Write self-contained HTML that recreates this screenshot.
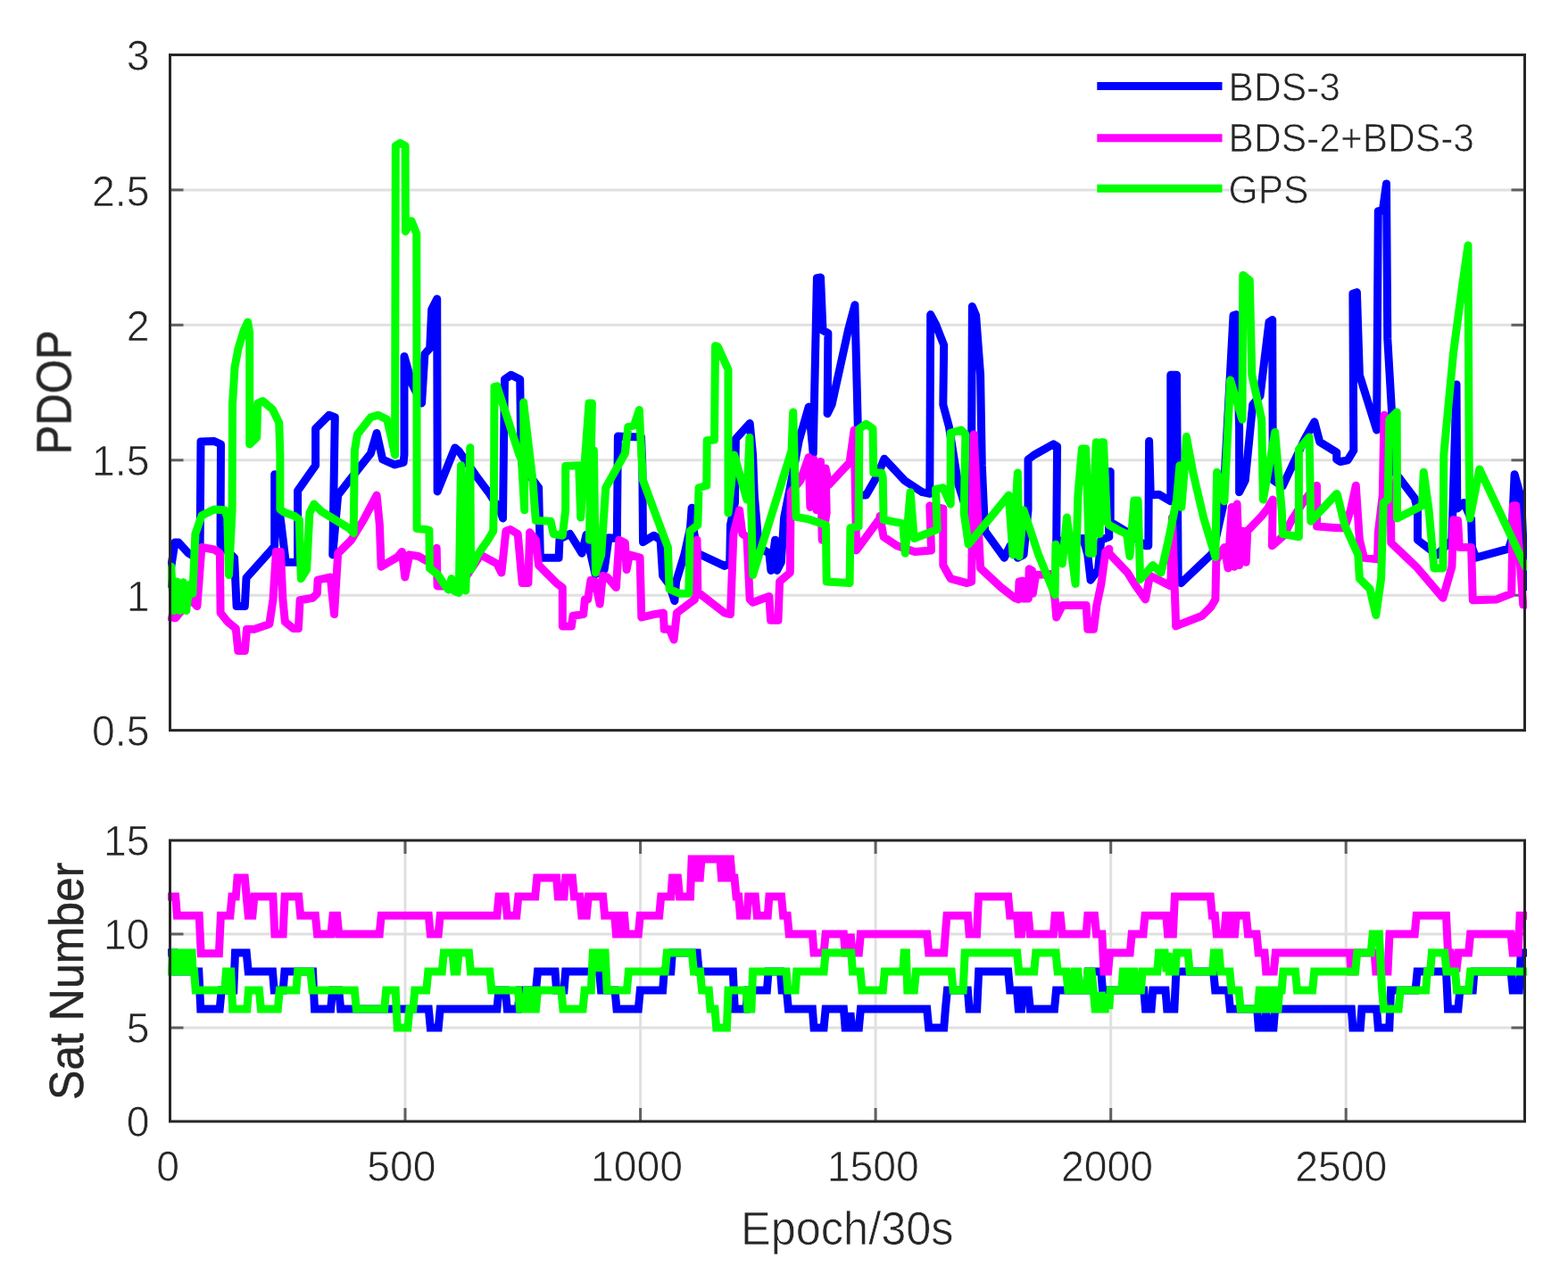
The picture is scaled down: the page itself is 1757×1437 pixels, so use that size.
<!DOCTYPE html>
<html lang="en"><head><meta charset="utf-8"><title>PDOP and satellite number</title>
<style>html,body{margin:0;padding:0;background:#fff;}body{width:1757px;height:1437px;overflow:hidden;}svg{display:block;}text{font-family:"Liberation Sans","DejaVu Sans",sans-serif;fill:#262626;stroke:#fff;stroke-width:0.7px;}.tk{font-size:48px;}.lb{font-size:51.5px;}.rot{stroke:#262626;stroke-width:0.5px;}.lg{font-size:43.5px;}</style></head><body>
<svg width="1757" height="1437" viewBox="0 0 1757 1437" role="img" aria-label="PDOP and satellite number over epochs for BDS-3, BDS-2+BDS-3 and GPS">
<rect width="1757" height="1437" fill="#fff"/>
<defs><filter id="soft" x="0" y="0" width="100%" height="100%" filterUnits="userSpaceOnUse" color-interpolation-filters="sRGB"><feGaussianBlur stdDeviation="0.6"/></filter><clipPath id="c1"><rect x="188.0" y="61.5" width="1523.0" height="757.1"/></clipPath><clipPath id="c2"><rect x="188.0" y="942.0" width="1523.0" height="315.0"/></clipPath></defs>
<g filter="url(#soft)">
<g><line x1="190.5" y1="667.2" x2="1708.5" y2="667.2" stroke="#e0e0e0" stroke-width="3"/><line x1="190.5" y1="515.8" x2="1708.5" y2="515.8" stroke="#e0e0e0" stroke-width="3"/><line x1="190.5" y1="364.3" x2="1708.5" y2="364.3" stroke="#e0e0e0" stroke-width="3"/><line x1="190.5" y1="212.9" x2="1708.5" y2="212.9" stroke="#e0e0e0" stroke-width="3"/><line x1="190.5" y1="1152.0" x2="1708.5" y2="1152.0" stroke="#e0e0e0" stroke-width="3"/><line x1="190.5" y1="1047.0" x2="1708.5" y2="1047.0" stroke="#e0e0e0" stroke-width="3"/><line x1="454.0" y1="942.0" x2="454.0" y2="1257.0" stroke="#e0e0e0" stroke-width="3"/><line x1="717.6" y1="942.0" x2="717.6" y2="1257.0" stroke="#e0e0e0" stroke-width="3"/><line x1="981.1" y1="942.0" x2="981.1" y2="1257.0" stroke="#e0e0e0" stroke-width="3"/><line x1="1244.7" y1="942.0" x2="1244.7" y2="1257.0" stroke="#e0e0e0" stroke-width="3"/><line x1="1508.2" y1="942.0" x2="1508.2" y2="1257.0" stroke="#e0e0e0" stroke-width="3"/></g>
<g stroke="#606060" stroke-width="3"><line x1="190.5" y1="667.2" x2="205.5" y2="667.2"/><line x1="1693.5" y1="667.2" x2="1708.5" y2="667.2"/><line x1="190.5" y1="515.8" x2="205.5" y2="515.8"/><line x1="1693.5" y1="515.8" x2="1708.5" y2="515.8"/><line x1="190.5" y1="364.3" x2="205.5" y2="364.3"/><line x1="1693.5" y1="364.3" x2="1708.5" y2="364.3"/><line x1="190.5" y1="212.9" x2="205.5" y2="212.9"/><line x1="1693.5" y1="212.9" x2="1708.5" y2="212.9"/><line x1="190.5" y1="1152.0" x2="205.5" y2="1152.0"/><line x1="1693.5" y1="1152.0" x2="1708.5" y2="1152.0"/><line x1="190.5" y1="1047.0" x2="205.5" y2="1047.0"/><line x1="1693.5" y1="1047.0" x2="1708.5" y2="1047.0"/><line x1="454.0" y1="1257.0" x2="454.0" y2="1242.0"/><line x1="454.0" y1="942.0" x2="454.0" y2="957.0"/><line x1="717.6" y1="1257.0" x2="717.6" y2="1242.0"/><line x1="717.6" y1="942.0" x2="717.6" y2="957.0"/><line x1="981.1" y1="1257.0" x2="981.1" y2="1242.0"/><line x1="981.1" y1="942.0" x2="981.1" y2="957.0"/><line x1="1244.7" y1="1257.0" x2="1244.7" y2="1242.0"/><line x1="1244.7" y1="942.0" x2="1244.7" y2="957.0"/><line x1="1508.2" y1="1257.0" x2="1508.2" y2="1242.0"/><line x1="1508.2" y1="942.0" x2="1508.2" y2="957.0"/></g>
<g clip-path="url(#c1)">
<polyline points="186.0,658.0 191.0,640.0 196.0,608.0 200.0,608.0 211.0,620.0 224.0,628.0 225.0,495.0 240.0,494.5 247.5,498.0 247.0,610.0 262.6,625.2 265.1,679.5 274.3,679.5 276.0,647.7 304.4,616.0 307.7,611.8 307.7,531.7 315.2,588.5 320.2,630.2 333.6,630.2 333.6,550.1 353.6,521.7 353.6,480.4 368.6,465.3 375.3,467.8 372.8,621.9 378.7,555.1 390.3,540.1 415.4,508.3 422.1,485.4 428.7,515.0 442.1,520.9 452.1,518.4 453.0,509.9 453.0,399.4 461.7,430.3 472.6,452.0 475.9,396.9 481.7,390.2 483.7,346.8 489.7,335.1 490.1,509.9 490.1,550.9 509.8,502.0 514.3,505.8 533.5,533.4 548.5,553.4 560.2,571.8 563.5,581.0 565.5,425.3 572.7,420.3 582.7,425.3 583.9,509.9 585.2,521.7 603.6,546.7 605.3,621.9 606.9,625.2 626.1,625.2 627.0,604.3 638.7,598.5 652.0,620.2 657.0,599.3 667.0,643.6 677.1,638.6 682.1,602.7 691.3,603.5 692.4,489.0 718.5,490.0 719.8,521.7 720.5,607.7 732.8,600.2 740.1,605.2 742.6,645.2 750.1,655.3 755.9,673.6 757.6,651.9 766.8,621.9 773.5,591.8 775.1,569.3 776.8,591.8 781.8,620.2 811.9,634.4 817.7,631.9 818.5,588.5 823.5,563.4 824.4,492.0 840.2,474.5 843.6,509.9 845.3,555.1 850.3,613.5 861.9,620.2 863.9,639.4 868.6,605.2 870.6,639.4 875.3,630.2 878.6,580.1 885.3,546.7 895.3,493.7 906.2,456.1 911.2,508.3 915.4,311.7 919.5,310.9 922.0,370.2 927.9,373.5 927.1,463.7 932.1,453.6 950.4,370.2 957.9,341.8 961.3,478.7 962.1,555.1 970.5,555.1 982.1,535.1 987.8,521.7 990.9,514.2 1013.4,538.4 1033.5,551.7 1041.8,553.4 1042.7,352.6 1048.5,363.5 1057.7,386.9 1056.8,453.6 1063.5,478.7 1073.5,541.7 1088.2,588.5 1089.4,343.5 1093.6,353.5 1098.6,420.3 1100.3,521.7 1103.6,595.2 1125.3,625.2 1132.0,611.8 1140.3,625.2 1147.0,621.9 1152.0,571.8 1152.0,515.0 1158.7,510.0 1180.4,497.9 1184.6,500.4 1183.7,608.5 1192.1,605.2 1213.8,603.5 1218.8,621.9 1222.1,650.2 1230.5,638.6 1233.8,605.2 1242.8,601.8 1240.9,530.0 1244.2,528.4 1244.2,585.1 1265.1,597.7 1283.5,611.8 1286.8,611.8 1287.6,494.5 1289.3,555.1 1298.5,554.2 1311.8,561.8 1311.8,420.3 1318.5,420.3 1320.2,651.9 1323.5,653.6 1358.6,620.2 1370.3,568.4 1382.0,353.5 1385.3,352.6 1388.6,478.7 1388.6,551.7 1395.3,538.4 1403.7,453.6 1412.0,443.6 1422.0,361.0 1425.7,358.5 1426.2,509.9 1427.0,538.4 1437.1,545.1 1452.1,513.3 1462.1,492.0 1472.9,472.8 1478.8,495.4 1497.8,507.1 1497.7,515.0 1501.7,517.5 1510.1,515.9 1516.8,505.0 1515.9,329.3 1520.4,327.6 1523.4,420.3 1542.6,482.0 1544.3,236.8 1549.3,236.0 1553.5,205.9 1554.8,379.9 1563.5,530.0 1585.2,558.4 1588.5,571.8 1588.5,605.2 1610.3,621.9 1626.9,605.2 1632.0,431.1 1632.8,570.1 1640.3,563.4 1648.6,581.8 1649.5,613.5 1653.7,625.2 1690.4,615.2 1693.7,605.2 1697.1,531.7 1704.6,558.4 1709.1,657.8 1713.8,657.8" fill="none" stroke="#0000ff" stroke-width="9" stroke-linejoin="round" stroke-linecap="butt"/>
<polyline points="188.3,691.1 196.7,692.8 213.4,671.9 220.9,679.5 225.9,613.5 240.1,616.0 246.4,620.2 247.1,687.0 255.1,697.0 264.3,704.5 266.8,729.5 274.3,729.5 276.5,705.3 285.2,705.3 301.9,699.5 306.0,671.9 309.4,618.5 314.4,618.5 316.9,671.9 319.4,697.0 328.6,704.5 334.4,704.5 336.1,672.8 350.3,670.3 355.3,665.3 356.1,650.2 370.3,646.9 374.5,688.6 378.7,620.2 393.7,605.2 407.0,583.5 422.1,555.1 425.4,588.5 427.1,635.2 445.4,624.4 450.4,618.5 453.8,646.9 458.8,621.9 468.8,623.5 477.8,628.5 485.1,621.9 489.2,614.3 490.1,656.9 515.1,656.9 538.5,621.9 556.9,631.9 561.9,641.9 566.9,595.2 571.9,593.5 580.2,598.5 585.2,653.6 591.9,653.6 593.6,596.8 600.3,605.2 603.6,633.5 623.6,653.6 630.3,658.6 630.3,702.0 640.3,702.0 642.0,690.3 653.7,688.6 655.4,671.9 658.7,671.9 662.0,650.2 667.0,651.9 672.1,677.0 675.4,645.2 680.4,646.9 690.4,658.6 693.8,605.2 700.4,608.5 702.1,638.6 705.4,621.9 717.1,625.2 718.8,692.0 732.8,688.6 743.4,687.0 744.2,705.3 750.1,705.3 755.1,717.0 758.4,687.0 778.5,671.9 781.0,605.2 781.8,663.6 811.9,687.0 818.5,688.6 821.9,598.5 828.6,571.8 831.9,598.5 836.9,601.8 840.2,671.9 843.6,675.3 861.9,668.6 863.6,695.3 872.0,695.3 873.6,651.9 885.3,641.9 886.2,551.7 897.0,538.4 906.2,512.5 907.9,568.4 912.0,515.0 915.0,571.8 919.5,517.5 921.2,605.2 926.2,575.1 925.1,525.0 928.7,543.4 952.1,518.4 957.1,482.0 959.6,616.9 987.8,578.5 985.9,578.5 990.1,601.8 1005.1,611.8 1025.1,618.5 1043.5,616.9 1041.8,566.8 1056.8,570.1 1056.8,633.5 1065.2,648.6 1083.6,653.6 1088.6,651.9 1091.1,487.0 1098.6,636.9 1122.0,658.6 1137.0,670.3 1141.2,671.9 1142.0,651.9 1145.7,651.1 1147.3,671.1 1152.3,671.1 1153.2,637.7 1156.5,639.4 1157.3,665.3 1160.7,644.4 1177.0,643.6 1182.1,671.9 1183.7,692.0 1190.4,678.6 1217.1,678.6 1218.8,705.3 1225.5,705.3 1228.8,678.6 1233.8,655.3 1238.8,618.5 1242.8,615.2 1242.7,620.2 1263.4,641.9 1271.8,655.3 1283.5,671.9 1288.5,645.2 1295.2,648.6 1308.5,655.3 1311.8,656.9 1313.5,580.1 1317.7,702.0 1325.2,698.7 1346.9,690.3 1356.9,680.3 1361.9,671.9 1362.8,628.5 1371.9,613.5 1376.1,636.9 1380.3,568.4 1382.8,635.2 1386.1,565.1 1388.6,633.5 1392.8,595.2 1396.2,630.2 1397.8,595.2 1413.7,578.5 1420.4,570.1 1426.2,560.1 1425.4,611.8 1438.7,600.2 1447.1,583.5 1462.1,560.1 1475.5,544.2 1475.5,590.1 1497.8,591.8 1497.7,591.8 1506.7,591.8 1513.4,571.8 1519.3,544.2 1523.4,605.2 1528.4,625.2 1543.5,626.9 1544.3,596.8 1549.3,555.1 1551.0,465.3 1558.5,568.4 1558.8,608.5 1586.9,635.2 1616.9,670.3 1626.9,635.2 1628.6,582.6 1633.6,583.5 1635.3,613.5 1648.6,613.5 1650.3,672.8 1677.0,671.9 1693.7,665.3 1695.4,566.8 1698.7,566.8 1706.7,677.8 1713.8,677.8" fill="none" stroke="#ff00ff" stroke-width="9" stroke-linejoin="round" stroke-linecap="butt"/>
<polyline points="188.3,634.4 191.7,635.2 194.7,684.5 198.4,651.9 201.7,684.5 205.4,652.7 208.7,684.5 212.5,655.3 215.9,665.3 218.9,598.5 225.9,578.1 240.1,570.9 251.8,571.8 254.8,580.1 256.5,644.4 260.1,571.8 260.5,453.6 263.0,411.9 267.1,390.2 273.0,371.0 277.7,361.0 279.7,373.5 279.7,497.9 287.7,490.4 288.8,452.0 294.3,449.5 305.2,458.6 312.7,473.7 313.9,509.9 313.9,570.9 318.6,574.3 330.2,578.5 335.3,582.6 337.3,648.6 343.6,638.6 346.9,575.1 351.9,565.1 360.3,573.4 392.0,592.6 396.2,597.7 397.4,505.0 400.4,487.0 415.4,467.8 423.7,465.3 433.7,470.3 438.8,492.0 442.6,510.0 443.3,163.4 448.4,160.4 454.1,163.4 454.4,259.4 461.0,247.7 466.8,261.9 467.1,592.6 477.8,593.5 480.9,594.3 481.4,636.9 490.1,643.6 498.4,656.1 502.6,661.1 505.9,648.6 509.3,662.8 514.3,664.4 516.5,521.7 521.8,661.9 526.8,501.7 527.6,638.6 535.2,621.9 546.8,605.2 552.7,595.2 553.5,555.1 554.0,433.6 556.9,432.8 581.9,509.9 584.4,515.0 587.7,571.8 586.6,451.1 596.9,538.4 600.3,583.5 617.0,584.3 620.3,598.5 630.3,600.2 633.7,571.8 633.7,522.5 648.7,521.7 650.7,580.1 660.0,452.0 663.4,452.0 660.4,605.2 665.4,505.0 667.4,641.9 673.7,621.9 678.7,546.7 700.4,508.3 703.8,478.7 710.5,477.0 716.3,459.5 718.8,509.9 720.5,538.4 732.8,571.8 748.4,613.5 750.1,660.3 761.8,665.3 771.8,665.3 773.1,595.2 781.8,588.5 783.1,546.7 791.8,544.2 792.2,493.7 800.5,492.9 801.5,387.7 804.3,388.5 816.0,414.4 816.0,575.1 822.7,510.0 836.9,560.1 839.9,490.4 843.6,644.4 887.0,505.0 888.7,462.0 892.0,579.3 905.4,581.8 925.4,588.5 926.2,651.9 952.1,653.6 952.9,591.8 962.1,590.1 962.9,480.4 970.5,475.3 978.0,480.4 978.8,530.0 987.8,530.0 989.2,535.1 990.1,582.6 1011.8,586.8 1014.3,620.2 1020.1,551.7 1024.3,603.5 1050.2,593.5 1048.5,548.4 1056.8,546.7 1065.2,565.1 1065.2,485.4 1076.9,482.0 1081.9,487.0 1080.2,575.1 1085.2,610.2 1130.3,555.1 1135.0,621.9 1140.3,530.0 1142.0,623.5 1147.0,571.8 1163.7,621.9 1182.1,666.9 1182.9,610.2 1190.4,631.9 1195.4,580.1 1205.1,654.4 1207.9,555.1 1212.4,502.9 1216.6,502.9 1218.4,555.1 1220.5,620.2 1224.6,620.2 1226.3,538.4 1228.3,495.7 1232.1,598.5 1234.1,495.7 1236.5,495.7 1240.5,585.1 1242.7,588.5 1255.1,595.2 1262.6,598.5 1265.9,623.5 1270.9,560.9 1275.1,560.9 1277.6,649.4 1291.8,633.5 1301.0,641.9 1309.3,605.2 1318.5,560.1 1321.9,521.7 1323.9,568.4 1328.2,513.3 1329.4,489.5 1336.9,530.0 1348.6,580.1 1361.9,624.4 1363.6,529.2 1371.9,561.8 1378.6,426.1 1392.0,470.3 1392.8,308.4 1400.3,314.2 1402.8,420.3 1413.7,470.3 1415.4,560.1 1428.7,484.5 1436.2,571.8 1437.4,598.5 1455.4,601.8 1455.4,503.7 1467.1,490.0 1468.8,584.3 1497.8,553.4 1498.4,554.2 1506.7,588.5 1521.8,621.9 1523.4,648.6 1535.1,660.3 1541.8,689.5 1547.6,648.6 1550.2,563.4 1555.2,560.1 1556.8,470.3 1565.2,462.0 1565.5,581.0 1593.6,566.8 1595.2,529.2 1601.1,571.8 1606.9,636.9 1616.9,636.9 1617.8,509.9 1628.6,395.2 1638.6,320.1 1645.0,275.0 1646.1,509.9 1647.0,581.0 1657.8,525.9 1709.1,634.9 1713.8,634.9" fill="none" stroke="#00ff00" stroke-width="9" stroke-linejoin="round" stroke-linecap="butt"/>
</g>
<g clip-path="url(#c2)">
<polyline points="185.0,1068.0 195.0,1068.0 196.7,1089.0 222.8,1089.0 224.8,1131.0 246.2,1131.0 248.2,1110.0 261.8,1110.0 263.5,1068.0 276.2,1068.0 278.2,1089.0 305.5,1089.0 307.2,1110.0 317.2,1110.0 318.9,1089.0 350.5,1089.0 352.5,1131.0 370.6,1131.0 372.6,1110.0 379.7,1110.0 381.7,1131.0 477.8,1131.0 478.1,1131.0 480.3,1131.0 482.3,1152.0 491.2,1152.0 493.2,1131.0 556.9,1131.0 558.9,1110.0 566.3,1110.0 568.3,1131.0 580.5,1131.0 582.5,1110.0 600.5,1110.0 602.5,1089.0 622.0,1089.0 623.6,1110.0 632.0,1110.0 633.7,1089.0 671.5,1089.0 673.5,1110.0 689.0,1110.0 691.0,1131.0 715.3,1131.0 717.3,1110.0 732.8,1110.0 733.1,1110.0 742.6,1110.0 744.2,1089.0 751.8,1089.0 753.4,1068.0 781.2,1068.0 783.2,1089.0 821.3,1089.0 823.3,1131.0 836.1,1131.0 837.7,1110.0 859.4,1110.0 861.1,1089.0 874.5,1089.0 876.1,1110.0 881.4,1110.0 883.4,1131.0 910.4,1131.0 912.0,1152.0 923.1,1152.0 925.1,1131.0 945.4,1131.0 947.1,1152.0 951.3,1152.0 952.9,1135.3 954.6,1152.0 962.4,1152.0 964.4,1131.0 987.8,1131.0 988.1,1131.0 1038.7,1131.0 1040.7,1152.0 1057.7,1152.0 1059.4,1131.0 1061.4,1110.0 1084.4,1110.0 1086.1,1131.0 1094.7,1131.0 1096.7,1089.0 1129.7,1089.0 1131.7,1110.0 1139.5,1110.0 1141.2,1131.0 1144.5,1131.0 1146.2,1110.0 1152.3,1110.0 1154.3,1131.0 1181.5,1131.0 1183.5,1110.0 1217.1,1110.0 1219.1,1089.0 1233.8,1089.0 1235.5,1110.0 1242.8,1110.0 1242.7,1110.0 1281.8,1110.0 1283.5,1131.0 1290.1,1131.0 1291.8,1110.0 1306.0,1110.0 1307.7,1131.0 1315.9,1131.0 1317.9,1089.0 1359.7,1089.0 1361.7,1110.0 1376.4,1110.0 1378.4,1131.0 1408.7,1131.0 1410.3,1152.0 1417.0,1152.0 1418.7,1135.3 1420.4,1152.0 1427.0,1152.0 1428.7,1131.0 1497.8,1131.0 1497.7,1131.0 1514.3,1131.0 1515.9,1152.0 1524.3,1152.0 1525.9,1131.0 1542.6,1131.0 1544.3,1152.0 1556.8,1152.0 1558.5,1110.0 1586.1,1110.0 1588.1,1089.0 1620.5,1089.0 1622.5,1131.0 1633.9,1131.0 1635.9,1110.0 1650.3,1110.0 1652.0,1089.0 1693.1,1089.0 1695.1,1110.0 1702.3,1110.0 1704.3,1068.0 1713.8,1068.0" fill="none" stroke="#0000ff" stroke-width="9" stroke-linejoin="miter" stroke-linecap="butt"/>
<polyline points="185.0,1005.0 196.7,1005.0 198.4,1026.2 223.2,1026.2 225.2,1068.7 245.4,1068.7 247.4,1026.2 257.9,1026.2 259.9,1005.0 264.3,1005.0 266.0,984.0 274.3,984.0 276.2,1005.0 278.2,1026.2 282.9,1026.2 284.9,1005.0 305.9,1005.0 307.9,1047.0 317.1,1047.0 319.1,1005.0 334.7,1005.0 336.7,1026.2 353.4,1026.2 355.5,1047.0 371.0,1047.0 373.0,1026.2 377.7,1026.2 379.7,1047.0 425.2,1047.0 427.2,1026.2 477.8,1026.2 478.1,1026.2 480.3,1026.2 482.3,1047.0 491.2,1047.0 493.2,1026.2 556.9,1026.2 558.9,1005.0 566.3,1005.0 568.3,1026.2 578.8,1026.2 580.8,1005.0 599.7,1005.0 601.7,984.0 623.6,984.0 625.3,1005.0 632.0,1005.0 633.7,984.0 641.4,984.0 643.4,1005.0 649.8,1005.0 651.8,1026.2 657.3,1026.2 659.3,1005.0 675.6,1005.0 677.6,1026.2 688.7,1026.2 690.4,1047.0 693.8,1047.0 695.4,1026.2 699.6,1026.2 701.3,1047.0 715.3,1047.0 717.3,1026.2 732.8,1026.2 733.1,1026.2 738.7,1026.2 740.7,1005.0 751.8,1005.0 753.4,984.0 759.5,984.0 761.5,1005.0 773.5,1005.0 775.1,963.0 780.1,963.0 781.8,984.0 784.3,984.0 786.0,963.0 806.9,963.0 808.5,984.0 811.9,984.0 813.5,963.0 818.5,963.0 820.2,984.0 823.0,984.0 825.0,1005.0 827.7,1005.0 829.4,1026.2 836.9,1026.2 838.6,1005.0 846.3,1005.0 848.3,1026.2 860.3,1026.2 861.9,1005.0 875.6,1005.0 877.6,1026.2 882.2,1026.2 884.2,1047.0 910.4,1047.0 912.0,1068.0 923.1,1068.0 925.1,1047.0 945.4,1047.0 947.1,1068.0 950.7,1068.0 953.1,1047.0 955.1,1068.0 962.4,1068.0 964.4,1047.0 987.8,1047.0 988.1,1047.0 1038.7,1047.0 1040.7,1068.0 1057.7,1068.0 1059.3,1047.0 1061.0,1026.2 1084.4,1026.2 1086.1,1047.0 1094.5,1047.0 1096.5,1005.0 1129.7,1005.0 1131.7,1026.2 1139.5,1026.2 1141.2,1047.0 1144.5,1047.0 1146.2,1026.2 1152.3,1026.2 1154.3,1047.0 1180.4,1047.0 1182.1,1026.2 1188.1,1026.2 1190.2,1047.0 1217.1,1047.0 1218.8,1026.2 1226.5,1026.2 1228.5,1047.0 1234.9,1047.0 1236.9,1089.0 1241.6,1089.0 1243.6,1068.0 1266.2,1068.0 1268.2,1047.0 1281.0,1047.0 1283.0,1026.2 1306.8,1026.2 1308.5,1047.0 1314.4,1047.0 1316.4,1005.0 1356.3,1005.0 1358.3,1026.2 1361.3,1026.2 1363.3,1047.0 1371.9,1047.0 1373.6,1026.2 1378.6,1026.2 1380.3,1047.0 1383.6,1047.0 1385.3,1026.2 1396.4,1026.2 1398.4,1047.0 1408.1,1047.0 1410.1,1068.0 1417.0,1068.0 1418.7,1089.0 1427.3,1089.0 1429.3,1068.0 1497.8,1068.0 1497.7,1068.0 1512.6,1068.0 1513.8,1089.0 1516.8,1089.0 1518.1,1068.0 1540.1,1068.0 1541.8,1089.0 1555.0,1089.0 1557.0,1047.0 1585.2,1047.0 1587.2,1026.2 1620.5,1026.2 1622.5,1068.0 1625.3,1068.0 1626.9,1085.3 1632.2,1085.3 1634.2,1068.0 1645.6,1068.0 1647.6,1047.0 1693.1,1047.0 1695.1,1068.0 1701.1,1068.0 1703.1,1026.2 1713.8,1026.2" fill="none" stroke="#ff00ff" stroke-width="9" stroke-linejoin="miter" stroke-linecap="butt"/>
<polyline points="185.0,1089.0 192.5,1089.0 193.3,1068.0 199.2,1068.0 200.0,1089.0 202.5,1089.0 203.4,1068.0 209.2,1068.0 210.0,1089.0 211.7,1089.0 212.5,1068.0 215.1,1068.0 215.9,1089.0 217.6,1089.0 219.2,1110.0 251.8,1110.0 253.4,1089.0 258.7,1089.0 260.7,1131.0 276.8,1131.0 278.5,1110.0 290.4,1110.0 292.4,1131.0 311.3,1131.0 313.3,1110.0 331.9,1110.0 333.6,1089.0 348.0,1089.0 350.0,1110.0 397.3,1110.0 399.3,1131.0 430.7,1131.0 432.7,1110.0 443.2,1110.0 445.2,1152.0 456.3,1152.0 456.9,1152.0 458.9,1131.0 462.8,1131.0 464.8,1110.0 477.8,1110.0 479.8,1089.0 495.3,1089.0 497.3,1068.0 507.0,1068.0 509.0,1089.0 512.0,1089.0 514.0,1068.0 525.4,1068.0 527.4,1089.0 548.8,1089.0 550.8,1110.0 580.5,1110.0 582.5,1131.0 588.6,1131.0 590.3,1110.0 594.4,1110.0 596.1,1131.0 600.5,1131.0 602.5,1110.0 628.9,1110.0 630.9,1131.0 653.1,1131.0 655.1,1110.0 662.3,1110.0 664.3,1068.0 669.5,1068.0 671.2,1089.0 672.9,1068.0 678.1,1068.0 680.2,1110.0 702.4,1110.0 704.4,1089.0 732.8,1089.0 733.1,1089.0 745.3,1089.0 747.3,1068.0 775.4,1068.0 777.4,1089.0 784.6,1089.0 786.6,1110.0 794.3,1110.0 796.0,1131.0 801.0,1131.0 802.7,1152.0 814.4,1152.0 816.0,1110.0 836.1,1110.0 837.7,1131.0 841.9,1131.0 843.6,1089.0 881.1,1089.0 882.8,1110.0 891.2,1110.0 892.8,1089.0 923.1,1089.0 925.1,1068.0 953.8,1068.0 955.4,1089.0 964.0,1089.0 966.0,1110.0 987.8,1110.0 988.1,1110.0 989.3,1110.0 991.3,1089.0 1011.8,1089.0 1013.1,1068.0 1015.4,1068.0 1016.8,1110.0 1024.4,1110.0 1026.4,1089.0 1066.1,1089.0 1068.1,1110.0 1079.2,1110.0 1081.2,1068.0 1139.7,1068.0 1141.7,1089.0 1158.7,1089.0 1160.7,1068.0 1183.1,1068.0 1185.1,1089.0 1194.8,1089.0 1196.8,1110.0 1202.1,1110.0 1203.8,1089.0 1207.9,1089.0 1209.6,1110.0 1217.1,1110.0 1218.8,1089.0 1223.2,1089.0 1225.2,1110.0 1227.1,1131.0 1233.0,1131.0 1234.1,1112.0 1236.1,1131.0 1242.8,1131.0 1242.7,1131.0 1244.2,1110.0 1256.8,1110.0 1258.4,1089.0 1262.6,1089.0 1263.4,1110.0 1265.9,1110.0 1267.6,1089.0 1270.9,1089.0 1271.8,1110.0 1278.5,1110.0 1280.1,1089.0 1296.8,1089.0 1298.5,1068.0 1305.2,1068.0 1307.1,1089.0 1309.1,1068.0 1310.2,1089.0 1316.9,1089.0 1318.5,1068.0 1331.1,1068.0 1333.1,1089.0 1358.6,1089.0 1360.3,1068.0 1366.1,1068.0 1367.8,1089.0 1378.0,1089.0 1380.0,1110.0 1388.1,1110.0 1390.1,1131.0 1409.5,1131.0 1411.2,1110.0 1416.2,1110.0 1417.9,1131.0 1420.4,1131.0 1422.0,1110.0 1427.0,1110.0 1428.7,1131.0 1432.0,1131.0 1433.7,1110.0 1436.2,1110.0 1437.9,1089.0 1451.5,1089.0 1453.5,1110.0 1470.7,1110.0 1472.7,1089.0 1497.8,1089.0 1497.7,1089.0 1518.7,1089.0 1520.7,1068.0 1536.2,1068.0 1538.2,1047.0 1545.4,1047.0 1548.6,1110.0 1550.6,1131.0 1567.1,1131.0 1569.1,1110.0 1597.7,1110.0 1599.4,1089.0 1602.7,1089.0 1604.4,1068.0 1618.8,1068.0 1620.9,1089.0 1630.5,1089.0 1632.5,1110.0 1645.6,1110.0 1647.6,1089.0 1713.8,1089.0" fill="none" stroke="#00ff00" stroke-width="9" stroke-linejoin="miter" stroke-linecap="butt"/>
</g>
<rect x="190.5" y="61.5" width="1518.0" height="757.1" fill="none" stroke="#262626" stroke-width="3"/>
<rect x="190.5" y="942.0" width="1518.0" height="315.0" fill="none" stroke="#262626" stroke-width="3"/>
<text class="tk" transform="translate(167.5,836.2) scale(0.965,1)" text-anchor="end">0.5</text>
<text class="tk" transform="translate(167.5,684.8) scale(0.965,1)" text-anchor="end">1</text>
<text class="tk" transform="translate(167.5,533.4) scale(0.965,1)" text-anchor="end">1.5</text>
<text class="tk" transform="translate(167.5,381.9) scale(0.965,1)" text-anchor="end">2</text>
<text class="tk" transform="translate(167.5,230.5) scale(0.965,1)" text-anchor="end">2.5</text>
<text class="tk" transform="translate(167.5,79.1) scale(0.965,1)" text-anchor="end">3</text>
<text class="tk" transform="translate(167.5,1274.2) scale(0.965,1)" text-anchor="end">0</text>
<text class="tk" transform="translate(167.5,1169.2) scale(0.965,1)" text-anchor="end">5</text>
<text class="tk" transform="translate(167.5,1064.2) scale(0.965,1)" text-anchor="end">10</text>
<text class="tk" transform="translate(167.5,959.2) scale(0.965,1)" text-anchor="end">15</text>
<text class="tk" transform="translate(188.1,1324) scale(0.965,1)" text-anchor="middle">0</text>
<text class="tk" transform="translate(450.0,1324) scale(0.965,1)" text-anchor="middle">500</text>
<text class="tk" transform="translate(713.4,1324) scale(0.965,1)" text-anchor="middle">1000</text>
<text class="tk" transform="translate(978.2,1324) scale(0.965,1)" text-anchor="middle">1500</text>
<text class="tk" transform="translate(1240.5,1324) scale(0.965,1)" text-anchor="middle">2000</text>
<text class="tk" transform="translate(1502.7,1324) scale(0.965,1)" text-anchor="middle">2500</text>
<text class="lb" transform="translate(949.3,1395.3) scale(0.98,1)" text-anchor="middle">Epoch/30s</text>
<text class="lb rot" transform="translate(79.4,439.8) rotate(-90) scale(0.955,1.06)" text-anchor="middle">PDOP</text>
<text class="lb rot" transform="translate(93.4,1099.8) rotate(-90) scale(0.97,1.04)" text-anchor="middle">Sat Number</text>
<line x1="1229.3" y1="96.4" x2="1369.5" y2="96.4" stroke="#0000ff" stroke-width="9"/>
<text class="lg" transform="translate(1376.6,112.8) scale(0.978,1)">BDS-3</text>
<line x1="1229.3" y1="154.8" x2="1369.5" y2="154.8" stroke="#ff00ff" stroke-width="9"/>
<text class="lg" transform="translate(1376.6,170.3) scale(0.978,1)">BDS-2+BDS-3</text>
<line x1="1229.3" y1="211.2" x2="1369.5" y2="211.2" stroke="#00ff00" stroke-width="9"/>
<text class="lg" transform="translate(1376.6,227.8) scale(0.978,1)">GPS</text>
</g>
</svg></body></html>
